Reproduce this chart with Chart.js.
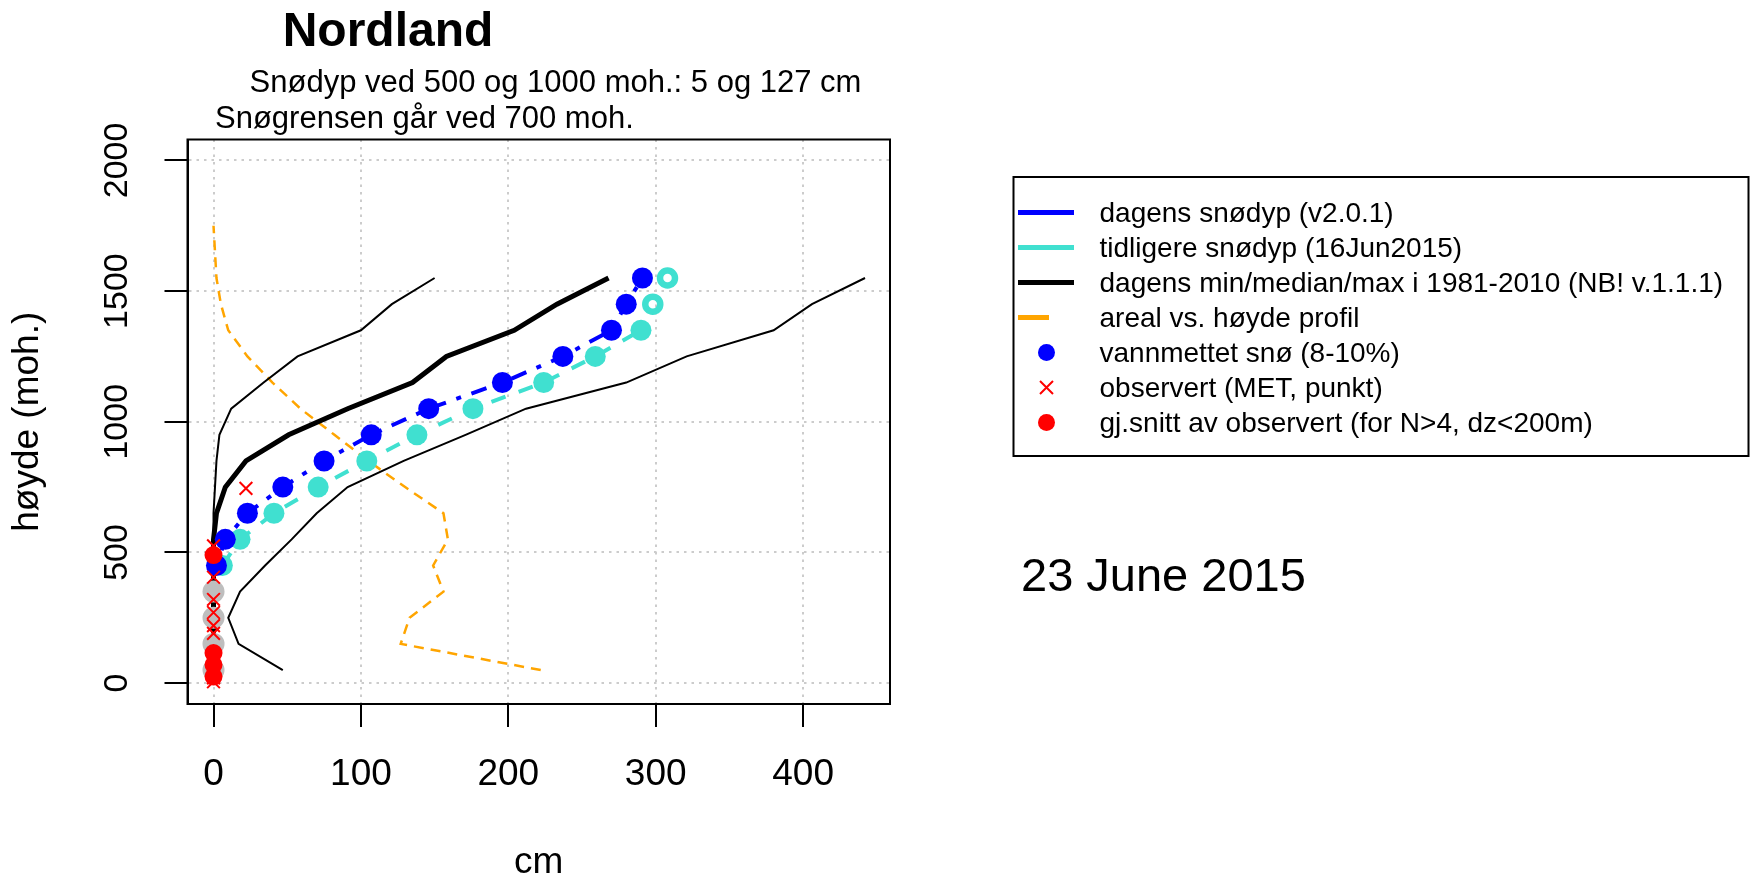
<!DOCTYPE html>
<html>
<head>
<meta charset="utf-8">
<title>Nordland snødyp</title>
<script src="https://cdn.jsdelivr.net/npm/chart.js@4.4.1/dist/chart.umd.min.js"></script>
<style>
  html, body { margin: 0; padding: 0; background: #fff; }
  #wrap { width: 1754px; height: 881px; }
</style>
</head>
<body>
<div id="wrap"><canvas id="snowChart" width="1754" height="881"></canvas></div>
<script>
// elevation bands (moh.) used by the model profiles
const bandElev   = [50, 150, 250, 350, 450, 550, 650, 750, 850, 950, 1050, 1150, 1250, 1350, 1450, 1550];
// dagens snødyp (cm)
const todayDepth = [0, 0, 0, 0, 2, 8, 23, 47, 75, 107, 146, 196, 237, 270, 280, 291];
// tidligere snødyp 16Jun2015 (cm), and whether the snow was water saturated
const prevDepth  = [0, 0, 0, 0, 6, 18, 41, 71, 104, 138, 176, 224, 259, 290, 298, 308];
const prevSaturated = [true, true, true, true, true, true, true, true, true, true, true, true, true, true, false, false];
// min / median / max for the day in 1981-2010
const climMin    = [0, 0, 0, 0, 0, 0, 0, 1, 2, 4, 12, 34, 57, 100, 121, 150];
const climMedian = [0, 0, 0, 0, 0, 0, 2, 8, 22, 51, 91, 135, 158, 204, 233, 268];
const climMax    = [47, 17, 10, 18, 35, 53, 70, 91, 129, 171, 212, 280, 321, 380, 406, 442];

// areal vs. høyde profil
const areaElev    = [50, 150, 250, 350, 450, 550, 650, 750, 850, 950, 1050, 1150, 1250, 1350, 1450, 1550, 1650, 1750];
const areaProfile = [222, 127, 133, 156, 149, 159, 156, 130, 105, 82, 59, 40, 23, 10, 5, 2, 1, 0];

// MET point observations
const obsElev  = [745, 525, 405, 320, 270, 220, 190, 105, 60, 20, 5];
const obsDepth = [22, 0, 0, 0, 0, 0, 0, 0, 0, 0, 0];
// averaged observations (N>4, dz<200m)
const avgElev  = [490, 115, 70, 25];
const avgDepth = [0, 0, 0, 0];

const xTicks = [0, 100, 200, 300, 400];
const yTicks = [0, 500, 1000, 1500, 2000];

const legendLabels = [
  'dagens snødyp (v2.0.1)',
  'tidligere snødyp (16Jun2015)',
  'dagens min/median/max i 1981-2010 (NB! v.1.1.1)',
  'areal vs. høyde profil',
  'vannmettet snø (8-10%)',
  'observert (MET, punkt)',
  'gj.snitt av observert (for N>4, dz<200m)'
];
const titleText = 'Nordland';
const subText1 = 'Snødyp ved 500 og 1000 moh.: 5 og 127 cm';
const subText2 = 'Snøgrensen går ved 700 moh.';
const dateText = '23 June 2015';

const FONT = '"Liberation Sans", Arial, Helvetica, sans-serif';
Chart.defaults.font.family = FONT;
Chart.defaults.color = '#000';

function pts(xs, ys) {
  return xs.map((x, i) => ({x: x, y: ys[i]}));
}

// split model bands into snow / no snow
let todayPts = [], zeroPts = [], prevPts = [], prevOpen = [];
bandElev.forEach((e, i) => {
  if (todayDepth[i] > 0) todayPts.push({x: todayDepth[i], y: e});
  else zeroPts.push({x: 0, y: e});
  if (prevDepth[i] > 0) {
    prevPts.push({x: prevDepth[i], y: e});
    prevOpen.push(!prevSaturated[i]);
  }
});
// the dashed previous line only joins the saturated points
const prevLine = prevPts.filter((p, i) => !prevOpen[i]);

const BLUE = '#0000FF', CYAN = '#40E0D0', ORANGE = '#FFA500', RED = '#FF0000', GREY = '#BEBEBE';

// draws the box round the plot
const frame = {
  id: 'frame',
  afterDraw(chart) {
    const a = chart.chartArea, ctx = chart.ctx;
    ctx.save();
    ctx.strokeStyle = '#000';
    ctx.lineWidth = 2;
    ctx.strokeRect(a.left, a.top, a.right - a.left, a.bottom - a.top);
    ctx.restore();
  }
};

// title lines and the date
const headerText = {
  id: 'headerText',
  afterDraw(chart) {
    const ctx = chart.ctx;
    ctx.save();
    ctx.fillStyle = '#000';
    ctx.textBaseline = 'alphabetic';
    ctx.textAlign = 'center';
    ctx.font = 'bold 48px ' + FONT;
    ctx.fillText(titleText, 388, 45.5);
    ctx.font = '31px ' + FONT;
    ctx.fillText(subText1, 555.5, 92);
    ctx.textAlign = 'left';
    ctx.fillText(subText2, 215, 128);
    ctx.font = '47px ' + FONT;
    ctx.fillText(dateText, 1021, 591);
    ctx.restore();
  }
};

// R style legend box on the right
const legendBox = {
  id: 'legendBox',
  afterDraw(chart) {
    const ctx = chart.ctx;
    const symbols = [
      {kind: 'line', color: BLUE, len: 56},
      {kind: 'line', color: CYAN, len: 56},
      {kind: 'line', color: '#000', len: 56},
      {kind: 'line', color: ORANGE, len: 31},
      {kind: 'dot', color: BLUE},
      {kind: 'cross', color: RED},
      {kind: 'dot', color: RED}
    ];
    ctx.save();
    ctx.strokeStyle = '#000';
    ctx.lineWidth = 2;
    ctx.strokeRect(1013.5, 177, 735, 279);
    ctx.font = '28px ' + FONT;
    ctx.textBaseline = 'alphabetic';
    ctx.textAlign = 'left';
    legendLabels.forEach((txt, i) => {
      const y = 212.5 + i * 35;
      const s = symbols[i];
      if (s.kind === 'line') {
        ctx.strokeStyle = s.color;
        ctx.lineWidth = 5;
        ctx.beginPath();
        ctx.moveTo(1018, y);
        ctx.lineTo(1018 + s.len, y);
        ctx.stroke();
      } else if (s.kind === 'dot') {
        ctx.fillStyle = s.color;
        ctx.beginPath();
        ctx.arc(1046.5, y, 8.5, 0, Math.PI * 2);
        ctx.fill();
      } else {
        ctx.strokeStyle = s.color;
        ctx.lineWidth = 2;
        ctx.beginPath();
        ctx.moveTo(1040, y - 6.5); ctx.lineTo(1053, y + 6.5);
        ctx.moveTo(1040, y + 6.5); ctx.lineTo(1053, y - 6.5);
        ctx.stroke();
      }
      ctx.fillStyle = '#000';
      ctx.fillText(txt, 1099.5, y + 9);
    });
    ctx.restore();
  }
};

const gridStyle = {color: '#cccccc', lineWidth: 2, tickLength: 23, tickColor: '#000', tickWidth: 2};
const borderStyle = {display: true, color: '#000', width: 2, dash: [2.5, 5]};

new Chart(document.getElementById('snowChart'), {
  type: 'scatter',
  data: {
    datasets: [
      {label: legendLabels[3], data: pts(areaProfile, areaElev), showLine: true,
       borderColor: ORANGE, borderWidth: 2.5, borderDash: [10, 7], pointRadius: 0, order: 12},
      {label: 'max', data: pts(climMax, bandElev), showLine: true,
       borderColor: '#000', borderWidth: 2, pointRadius: 0, order: 11},
      {label: 'min', data: pts(climMin, bandElev), showLine: true,
       borderColor: '#000', borderWidth: 2, pointRadius: 0, order: 10},
      {label: legendLabels[2], data: pts(climMedian, bandElev), showLine: true,
       borderColor: '#000', borderWidth: 5, pointRadius: 0, order: 9},
      {label: legendLabels[1], data: prevLine, showLine: true,
       borderColor: CYAN, borderWidth: 4, borderDash: [15, 14], pointRadius: 0, order: 8},
      {label: 'prev points', data: prevPts, pointStyle: 'circle',
       pointRadius: prevOpen.map(o => o ? 7.5 : 10.5),
       pointBorderWidth: prevOpen.map(o => o ? 6.5 : 0),
       pointBorderColor: CYAN,
       pointBackgroundColor: prevOpen.map(o => o ? 'rgba(0,0,0,0)' : CYAN), order: 7},
      {label: legendLabels[0], data: todayPts, showLine: true,
       borderColor: BLUE, borderWidth: 4, borderDash: [5, 11, 16, 11], pointRadius: 0, order: 6},
      {label: legendLabels[4], data: todayPts, pointStyle: 'circle', pointRadius: 10.5,
       pointBorderWidth: 0, pointBackgroundColor: BLUE, order: 5},
      {label: 'no snow', data: zeroPts, pointStyle: 'circle', pointRadius: 11,
       pointBorderWidth: 0, pointBackgroundColor: GREY, order: 4},
      {label: legendLabels[5], data: pts(obsDepth, obsElev), pointStyle: 'crossRot', pointRadius: 9,
       pointBorderWidth: 2, pointBorderColor: RED, order: 3},
      {label: legendLabels[6], data: pts(avgDepth, avgElev), pointStyle: 'circle', pointRadius: 9,
       pointBorderWidth: 0, pointBackgroundColor: RED, order: 2}
    ]
  },
  options: {
    responsive: false,
    animation: false,
    devicePixelRatio: 1,
    events: [],
    layout: {padding: {top: 139.5, right: 864, bottom: 0, left: 0}},
    elements: {line: {tension: 0}},
    plugins: {
      legend: {display: false},
      title: {display: false},
      tooltip: {enabled: false}
    },
    scales: {
      x: {
        type: 'linear', min: -17.65, max: 458.95,
        afterBuildTicks: s => { s.ticks = xTicks.map(v => ({value: v})); },
        afterFit: s => { s.height = 177; },
        ticks: {font: {size: 37}, color: '#000', padding: 25.8, maxRotation: 0, autoSkip: false,
                callback: v => String(v)},
        grid: gridStyle,
        border: borderStyle,
        title: {display: true, text: 'cm', font: {size: 37, lineHeight: 1}, color: '#000', padding: 0}
      },
      y: {
        type: 'linear', min: -80, max: 2080,
        afterBuildTicks: s => { s.ticks = yTicks.map(v => ({value: v})); },
        afterFit: s => { s.width = 187.5; },
        ticks: {font: {size: 34}, color: '#000', minRotation: 90, maxRotation: 90, crossAlign: 'center',
                padding: 8.7, autoSkip: false, callback: v => String(v)},
        grid: gridStyle,
        border: borderStyle,
        title: {display: true, text: 'høyde (moh.)', font: {size: 37}, color: '#000', padding: {top: 6, bottom: 0}}
      }
    }
  },
  plugins: [frame, headerText, legendBox]
});
</script>
</body>
</html>
